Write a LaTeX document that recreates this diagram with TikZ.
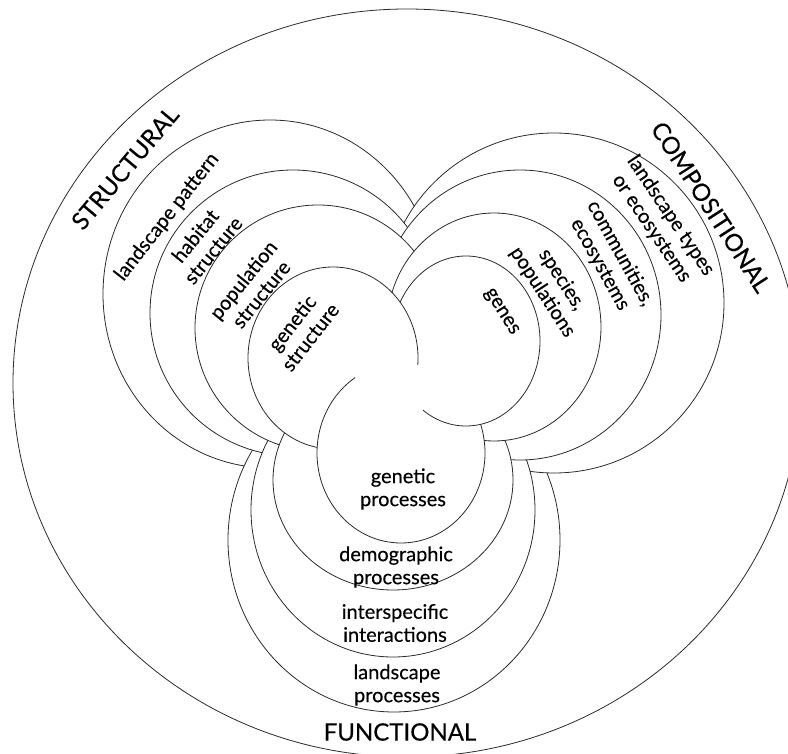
\documentclass[tikz,border=0pt]{standalone}
\usepackage{fontspec}
\setmainfont{Lato}[FakeBold=0.3]
\definecolor{mInk}{HTML}{2B2B2B}

% rings of the three families, in pixels of the page
\newcommand{\outerRing}{(407,383) ellipse [x radius=394, y radius=374]}
\newcommand{\sOne}{(270,294) ellipse [x radius=167, y radius=174]}
\newcommand{\sTwo}{(293,313) circle [radius=143]}
\newcommand{\sThree}{(318,328) circle [radius=123]}
\newcommand{\sFour}{(333,358) ellipse [x radius=85, y radius=91]}
\newcommand{\cOne}{(554,303) circle [radius=170]}
\newcommand{\cTwo}{(520,315) ellipse [x radius=141, y radius=145]}
\newcommand{\cThree}{(494,327) ellipse [x radius=107, y radius=114]}
\newcommand{\cFour}{(466,341) ellipse [x radius=74, y radius=85]}
\newcommand{\fOne}{(401,453) ellipse [x radius=84, y radius=90]}
\newcommand{\fTwo}{(393,480) ellipse [x radius=120, y radius=110]}
\newcommand{\fThree}{(393,510) ellipse [x radius=142, y radius=147]}
\newcommand{\fFour}{(394,540) ellipse [x radius=166, y radius=172]}
\newcommand{\pageBox}{(-20,-20) rectangle (820,790)}

\begin{document}
\begin{tikzpicture}[x=1pt, y=-1pt,
    ring/.style={draw=mInk, line width=0.8pt},
    lbl/.style={font=\fontsize{20}{23}\selectfont, align=center, inner sep=0pt},
    head/.style={font=\fontsize{24}{28}\selectfont, inner sep=0pt}]
    \useasboundingbox (0,0) rectangle (788,754);
    \clip (0,0) rectangle (788,754);
    \draw[ring] \outerRing;

    % structural
    \begin{scope}[even odd rule]
        \clip \cOne \pageBox;
        \clip \fFour \pageBox;
        \draw[ring] \sOne;
    \end{scope}
    \begin{scope}[even odd rule]
        \clip \cTwo \pageBox;
        \clip \fThree \pageBox;
        \draw[ring] \sTwo;
    \end{scope}
    \begin{scope}[even odd rule]
        \clip \cThree \pageBox;
        \clip \fTwo \pageBox;
        \draw[ring] \sThree;
    \end{scope}
    \begin{scope}[even odd rule]
        \clip \fOne \pageBox;
        \draw[ring] \sFour;
    \end{scope}

    % compositional
    \begin{scope}[even odd rule]
        \clip \sTwo \pageBox;
        \clip \fThree \pageBox;
        \draw[ring] \cOne;
    \end{scope}
    \begin{scope}[even odd rule]
        \clip \sThree \pageBox;
        \clip \fTwo \pageBox;
        \draw[ring] \cTwo;
    \end{scope}
    \begin{scope}[even odd rule]
        \clip \sFour \pageBox;
        \clip \fOne \pageBox;
        \draw[ring] \cThree;
    \end{scope}
    \begin{scope}[even odd rule]
        \clip \sFour \pageBox;
        \clip (370,375) rectangle (423,470) \pageBox;
        \draw[ring] \cFour;
    \end{scope}

    % functional
    \begin{scope}[even odd rule]
        \clip \cFour \pageBox;
        \clip (355,330) rectangle (420,385) \pageBox;
        \draw[ring] \fOne;
    \end{scope}
    \begin{scope}[even odd rule]
        \clip \sFour \pageBox;
        \clip \cThree \pageBox;
        \draw[ring] \fTwo;
    \end{scope}
    \begin{scope}[even odd rule]
        \clip \sThree \pageBox;
        \clip \cTwo \pageBox;
        \draw[ring] \fThree;
    \end{scope}
    \begin{scope}[even odd rule]
        \clip \sTwo \pageBox;
        \clip \cOne \pageBox;
        \draw[ring] \fFour;
    \end{scope}

    \node[head, rotate=50] (structural) at (125,168) {STRUCTURAL};
    \node[head, rotate=-57] (compositional) at (711,207) {COMPOSITIONAL};
    \node[head] (functional) at (400,732) {FUNCTIONAL};

    \node[lbl, rotate=52] (landPattern) at (167,217) {landscape pattern};
    \node[lbl, rotate=51] (habitat) at (204,243) {habitat\\structure};
    \node[lbl, rotate=51] (population) at (252,287) {population\\structure};
    \node[lbl, rotate=52] (geneticS) at (301,330) {genetic\\structure};

    \node[lbl, rotate=-56] (landTypes) at (661,222) {landscape types\\or ecosystems};
    \node[lbl, rotate=-61] (communities) at (610,259) {communities,\\ecosystems};
    \node[lbl, rotate=-57] (species) at (552,286) {species,\\populations};
    \node[lbl, rotate=-58] (genes) at (501,312) {genes};

    \node[lbl] (geneticP) at (403,489) {genetic\\processes};
    \node[lbl] (demographic) at (396,567) {demographic\\processes};
    \node[lbl] (interspecific) at (395,623) {interspecific\\interactions};
    \node[lbl] (landProc) at (397,685) {landscape\\processes};
\end{tikzpicture}
\end{document}
